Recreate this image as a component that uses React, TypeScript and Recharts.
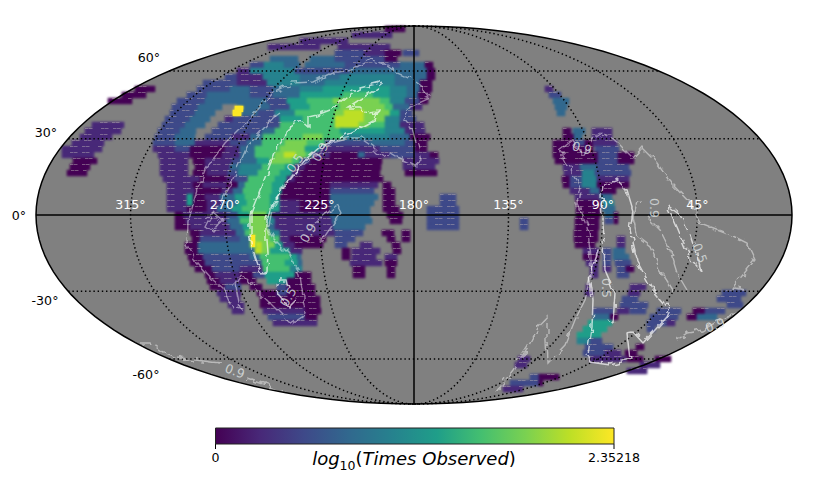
import React from 'react';
import { ScatterChart, Scatter, XAxis, YAxis } from 'recharts';

// Everything on the map is in the projected (Mollweide) plane, origin at lon 180 / lat 0
const PLANE_A = 378;
const PLANE_B = 189;
const MAX_LOG = 2.35218;

const viridis = ['#440154', '#482878', '#3e4989', '#31688e', '#26828e', '#1f9e89', '#44bf70', '#7ad151', '#bddf26', '#fde725'];

// y of the row, then x, level, x, level, ... x (one run after the other, level 0-9 of the colour scale)
const skyRows: number[][] = [
  [186, -29, 0, -12], [180, -62, 1, -22], [174, -114, 1, -69], [168, -146, 1, -94], [168, -76, 1, -26],
  [162, -79, 2, -50, 1, -29, 0, -16], [162, -11, 2, 2],
  [156, -144, 3, -118], [156, -104, 3, -79, 2, -29, 0, -17],
  [150, -164, 2, -150, 4, -130, 3, -116], [150, -109, 3, -69, 2, -14, 3, 11, 0, 19],
  [144, -177, 1, -164, 4, -119, 2, -64, 3, 13, 0, 19],
  [138, -189, 2, -177, 1, -151, 4, -114, 3, -74, 4, -19, 3, 13, 0, 20],
  [132, -211, 2, -177, 1, -147, 4, -114, 3, -89, 4, -19, 3, 6, 0, 18],
  [126, -217, 2, -184, 3, -164, 2, -141, 3, -114, 4, -91, 5, -24, 4, -7, 3, 6, 0, 18],
  [120, -227, 2, -207, 3, -164, 2, -141, 3, -114, 5, -71, 6, -41, 5, -24, 4, -7, 3, 4, 0, 16],
  [114, -237, 2, -209, 3, -147, 2, -127, 5, -107, 6, -81, 7, -34, 6, -24, 4, -9, 2, 6, 0, 11],
  [108, -242, 2, -216, 3, -192], [108, -177, 3, -144, 2, -124, 5, -104, 6, -74, 7, -29, 6, -21, 3, -4, 1, 6],
  [106, -179, 9, -171],
  [102, -244, 2, -219, 3, -202], [102, -181, 3, -156, 2, -139, 4, -119, 6, -79, 7, -70, 8, -50, 7, -24, 5, -14, 2, -2],
  [102, -181, 9, -173],
  [96, -249, 2, -224, 3, -207], [96, -189, 1, -181, 2, -134, 5, -111, 6, -79, 8, -50, 7, -29, 4, -14, 2, 1],
  [90, -252, 2, -229, 3, -212], [90, -196, 2, -134, 6, -79, 8, -55, 7, -45, 6, -29, 4, -14, 1, 8],
  [84, -256, 2, -234, 3, -219], [84, -202, 2, -152, 3, -139, 6, -74, 5, -29, 4, -9, 1, 8],
  [78, -259, 2, -239, 3, -222], [78, -209, 2, -182, 1, -164, 3, -151, 6, -111, 7, -91, 6, -71, 4, -24, 3, -4, 0, 13],
  [72, -261, 2, -239, 3, -219, 1, -184, 2, -167, 3, -152, 6, -129, 7, -107, 6, -89, 2, -44, 3, -9, 2, 1, 0, 11],
  [66, -261, 1, -239, 2, -224, 0, -189, 1, -174, 3, -159, 6, -134, 7, -109, 5, -94, 1, -34, 2, 1, 0, 11],
  [60, -256, 1, -224, 0, -192, 1, -174, 3, -159, 6, -139, 7, -130, 8, -118, 7, -108, 6, -102, 1, -84, 0, -56, 3, -49, 1, -24, 2, 1, 1, 16, 0, 23],
  [54, -254, 1, -227], [54, -221, 0, -209, 1, -182, 2, -174, 3, -157, 5, -144, 7, -122, 6, -114, 2, -104, 0, -34], [54, -11, 1, 23],
  [48, -254, 1, -227], [48, -219, 0, -209, 1, -184, 3, -174, 4, -152, 6, -129, 5, -119, 1, -109, 0, -34], [48, -11, 1, 21],
  [42, -254, 1, -229], [42, -221, 0, -207, 1, -186, 2, -176, 4, -156, 6, -134, 5, -122, 1, -114, 0, -34], [42, -9, 0, 21],
  [36, -251, 1, -214, 0, -187, 1, -179, 2, -166, 6, -139, 5, -127, 1, -119, 0, -34],
  [30, -247, 1, -221, 0, -211, 1, -187, 0, -176, 3, -169, 6, -142, 5, -129, 0, -84, 1, -39], [30, -31, 0, -24],
  [24, -247, 1, -219, 0, -192, 1, -181, 3, -171, 6, -142, 5, -132, 0, -84, 2, -42], [24, -31, 0, -22],
  [18, -247, 1, -227, 5, -221, 0, -209, 1, -194, 3, -179, 5, -169, 6, -144, 5, -134, 0, -84, 3, -39], [18, -31, 0, -21], [18, 26, 2, 41],
  [12, -247, 1, -227, 5, -221, 0, -207, 1, -192, 3, -177, 5, -167, 6, -144, 5, -134, 1, -114, 0, -84, 3, -40], [12, -31, 0, -21], [12, 26, 2, 41],
  [6, -247, 1, -227, 0, -207, 1, -197, 3, -182, 5, -172, 6, -144, 5, -134, 1, -114, 0, -84, 3, -44], [6, -31, 0, -17], [6, 13, 2, 43],
  [0, -239, 0, -231, 1, -187, 2, -176, 5, -164, 7, -147, 5, -142, 1, -84, 3, -44], [0, -27, 0, -11], [0, 13, 2, 43],
  [-6, -239, 0, -228, 1, -187, 3, -174, 6, -164, 7, -147, 4, -139, 1, -82, 3, -44], [-6, -24, 0, -14], [-6, 13, 2, 43],
  [-12, -239, 0, -224, 1, -184, 3, -171, 5, -164, 7, -146, 3, -139, 1, -81, 3, -49], [-12, 13, 2, 43],
  [-18, -224, 0, -214, 1, -178, 3, -169, 6, -164, 7, -144, 4, -134, 1, -79, 2, -52], [-18, -32, 0, -22], [-18, -12, 0, -7],
  [-23, -163, 9, -159],
  [-24, -222, 0, -214, 2, -174, 3, -164, 7, -144, 6, -134, 1, -124, 0, -91], [-24, -79, 2, -59], [-24, -27, 0, -21], [-24, -12, 0, -7],
  [-29, -163, 9, -159],
  [-30, -229, 0, -216, 3, -164, 7, -158, 8, -152, 7, -139, 5, -131, 1, -119, 0, -94], [-30, -79, 2, -69], [-30, -54, 1, -44], [-30, -22, 0, -16],
  [-36, -229, 0, -216, 3, -159, 8, -152, 7, -144, 5, -124, 1, -114], [-36, -72, 0, -66], [-36, -62, 1, -34], [-36, -21, 0, -14],
  [-42, -226, 0, -211, 2, -164, 3, -154, 6, -124, 5, -117, 3, -114], [-42, -72, 0, -66], [-42, -62, 1, -39], [-42, -29, 1, -19],
  [-48, -224, 0, -209, 2, -152, 6, -129, 5, -116, 3, -114], [-48, -64, 1, -34], [-48, -29, 0, -17],
  [-54, -219, 0, -202, 2, -174, 1, -151, 6, -124, 4, -112], [-54, -61, 0, -51], [-54, -27, 0, -19],
  [-60, -209, 0, -199, 1, -174, 0, -161, 2, -149, 5, -119, 0, -106], [-60, -61, 0, -51], [-60, -27, 0, -19],
  [-66, -207, 0, -194, 1, -174, 0, -161], [-66, -147, 5, -127, 0, -106],
  [-72, -204, 0, -189, 2, -176], [-72, -164, 0, -154], [-72, -137, 2, -127, 0, -102],
  [-78, -197, 1, -176], [-78, -157, 0, -137, 2, -127, 0, -99],
  [-84, -194, 1, -174], [-84, -154, 0, -96],
  [-90, -186, 1, -172], [-90, -154, 0, -96],
  [-96, -182, 1, -171], [-96, -151, 1, -109, 0, -96],
  [-102, -146, 2, -109, 0, -97],
  [-108, -141, 1, -97],
  // the eastern half
  [126, 131, 1, 138], [120, 135, 2, 146], [114, 139, 3, 152], [108, 141, 3, 152], [102, 143, 3, 149],
  [84, 149, 0, 154], [84, 159, 3, 168], [84, 178, 1, 196],
  [78, 149, 0, 158], [78, 160, 3, 168], [78, 178, 1, 198],
  [72, 139, 0, 161, 2, 171, 0, 176], [72, 179, 1, 201],
  [66, 139, 0, 176], [66, 181, 2, 203],
  [60, 139, 0, 184, 2, 204, 0, 218], [54, 141, 0, 184, 2, 204, 0, 218],
  [48, 149, 1, 166, 3, 183, 2, 214], [42, 150, 1, 168, 4, 181, 2, 214],
  [36, 148, 0, 156, 2, 168, 4, 183, 1, 213], [30, 149, 0, 156, 2, 168, 4, 183, 0, 213],
  [24, 156, 1, 176, 3, 186, 0, 201], [18, 161, 1, 183], [18, 186, 3, 198],
  [12, 162, 0, 183], [12, 188, 4, 198], [6, 162, 0, 183], [6, 189, 3, 198],
  [0, 162, 0, 183], [0, 191, 3, 198], [0, 200, 0, 203],
  [-6, 161, 0, 183], [-6, 191, 2, 196], [-6, 200, 0, 203], [-6, 106, 2, 112],
  [-12, 161, 0, 183], [-12, 106, 2, 112], [-18, 160, 0, 183],
  [-24, 160, 0, 183], [-24, 203, 1, 209], [-30, 161, 0, 181], [-30, 203, 1, 208],
  [-36, 169, 1, 183], [-36, 189, 2, 196], [-36, 199, 3, 211],
  [-42, 169, 0, 183], [-42, 189, 2, 196], [-42, 199, 3, 214],
  [-48, 172, 1, 181], [-48, 189, 2, 196], [-48, 201, 2, 216],
  [-54, 176, 1, 181], [-54, 189, 1, 195], [-54, 203, 2, 212, 0, 219],
  [-60, 176, 1, 181], [-60, 203, 2, 214],
  [-72, 172, 1, 176], [-72, 216, 1, 229],
  [-78, 171, 1, 176], [-78, 214, 1, 226], [-78, 308, 2, 329],
  [-84, 208, 2, 223], [-84, 303, 2, 325],
  [-90, 206, 2, 231], [-90, 313, 2, 329],
  [-96, 179, 2, 196], [-96, 203, 1, 213], [-96, 216, 2, 231], [-96, 243, 2, 264], [-96, 279, 0, 291, 2, 309],
  [-102, 179, 3, 196, 0, 203], [-102, 236, 2, 263], [-102, 273, 0, 283, 3, 301],
  [-108, 174, 5, 196], [-108, 233, 2, 253, 1, 261],
  [-114, 169, 5, 191], [-114, 233, 2, 241],
  [-120, 163, 5, 186], [-126, 163, 4, 176, 2, 186],
  [-132, 171, 2, 199], [-132, 222, 0, 229],
  [-138, 169, 2, 191, 1, 206], [-138, 211, 0, 223],
  [-144, 176, 1, 186], [-144, 188, 1, 211], [-144, 213, 0, 226], [-144, 241, 0, 256], [-144, 104, 1, 113],
  [-150, 101, 1, 111], [-150, 226, 1, 246], [-156, 213, 1, 231],
  [-162, 116, 2, 125, 0, 143], [-168, 96, 2, 125, 0, 129], [-174, 89, 1, 109],
  // the small western patches
  [126, -279, 0, -259], [120, -292, 0, -269], [114, -306, 0, -284],
  [90, -322, 1, -292], [84, -329, 1, -296], [78, -334, 1, -304], [72, -342, 1, -311], [66, -352, 1, -314], [60, -352, 1, -322],
  [54, -341, 0, -317], [48, -344, 0, -324], [42, -347, 0, -329],
];

const contourMain05 = [[-31, 133], [-54, 127], [-69, 117], [-84, 105], [-97, 100], [-106, 98], [-106, 88], [-114, 95], [-127, 85], [-129, 77], [-137, 68], [-146, 45], [-154, 25], [-164, 0], [-164, -18], [-161, -35], [-156, -50], [-151, -59], [-147, -57], [-146, -38], [-147, -25], [-147, -5], [-142, 10], [-134, 20], [-124, 35], [-109, 55], [-94, 68], [-74, 77], [-54, 87], [-39, 95], [-36, 103], [-47, 102], [-54, 108], [-66, 108], [-47, 120], [-31, 131], [-31, 133]];
const contourBlob05 = [[-126, -73], [-128, -65], [-134, -65], [-137, -72], [-136, -81], [-131, -87], [-124, -91], [-118, -85]];
const contourLoop05 = [[193, -103], [199, -108], [201, -78], [191, -55], [189, -5], [188, 22], [189, 30], [203, 35], [213, 25], [219, 5], [216, -15], [224, -48], [239, -75], [256, -95], [253, -102], [229, -128], [219, -117], [213, -118], [216, -145], [196, -150], [176, -147], [174, -140], [178, -112], [179, -85], [176, -58], [184, -35], [179, -32]];
const contourSliver05 = [[253, 10], [263, -12], [276, -43], [288, -57], [276, -20], [266, 0], [253, 10]];

const contourMain09 = [[-74, 143], [-61, 145], [-44, 155], [-31, 152], [-17, 142], [-1, 135], [9, 128], [16, 117], [-4, 108], [-11, 98], [-2, 87], [4, 65], [7, 55], [1, 50], [-9, 55], [-17, 58], [-24, 62], [-31, 58], [-41, 68], [-54, 77], [-64, 77], [-82, 72], [-101, 58], [-119, 43], [-131, 28], [-142, 5], [-146, -15], [-141, -23], [-126, -38], [-114, -60], [-109, -98], [-124, -108], [-134, -98], [-144, -88], [-161, -72], [-172, -57], [-179, -68], [-174, -95], [-182, -93], [-191, -73], [-201, -65], [-216, -48], [-227, -28], [-226, -8], [-217, 25], [-209, 45], [-189, 72], [-164, 97], [-141, 122], [-121, 132], [-101, 133], [-81, 143], [-74, 143]];
const contourBranch09 = [[-134, 102], [-141, 97], [-167, 68], [-186, 25], [-204, -2], [-209, -12], [-202, -17], [-192, -5], [-201, 3], [-209, -2]];
const contourCore09 = [[-99, -8], [-77, 10], [-73, 2], [-94, -28]];
const contourEast09 = [[188, 82], [203, 73], [219, 57], [228, 67], [243, 52], [256, 33], [276, 12], [286, -8], [313, -18], [333, -28], [341, -45], [319, -72], [331, -75]];
const contourEastLeft09 = [[188, 82], [178, 75], [169, 60], [159, 75], [146, 65], [153, 52], [166, 30], [163, 12], [173, -12], [176, -32], [178, -58], [171, -85], [161, -105], [151, -130], [134, -148], [133, -125], [133, -103], [124, -113], [114, -132], [99, -155], [84, -175]];
const contourEastInner09 = [[228, 13], [223, 12], [219, -2], [223, -22], [236, -32], [246, -55], [259, -75]];
const contourEastOuter09 = [[234, -3], [246, -15], [256, -35], [263, -58], [273, -75]];
const contourLower09 = [[263, -125], [273, -118], [289, -115], [309, -103], [323, -98]];
const contourSouth09 = [[-274, -128], [-264, -128], [-251, -137], [-237, -142], [-227, -144], [-194, -148]];
const contourSouth09b = [[-167, -163], [-147, -170], [-131, -177]];

const contours05 = [contourMain05, contourBlob05, contourLoop05, contourSliver05];
const contours09 = [contourMain09, contourBranch09, contourCore09, contourEast09, contourEastLeft09, contourEastInner09, contourEastOuter09, contourLower09, contourSouth09, contourSouth09b];

const contourLabels = [
  { x: -119, y: 52, text: '0.5', angle: -55 }, { x: -94, y: 63, text: '0.9', angle: -60 },
  { x: -106, y: -18, text: '0.9', angle: -60 }, { x: -126, y: -82, text: '0.5', angle: -60 },
  { x: -179, y: -156, text: '0.9', angle: 20 }, { x: 168, y: 67, text: '0.9', angle: 15 },
  { x: 192, y: -73, text: '0.5', angle: 90 }, { x: 286, y: -38, text: '0.5', angle: 70 },
  { x: 240, y: 7, text: '0.9', angle: 90 }, { x: 301, y: -110, text: '0.9', angle: -20 },
];

const latLabels = [
  { x: -265, y: 158, text: '60°' }, { x: -368, y: 83, text: '30°' }, { x: -395, y: 0, text: '0°' },
  { x: -369, y: -85, text: '-30°' }, { x: -268, y: -159, text: '-60°' },
];
const lonTicks = [315, 270, 225, 180, 135, 90, 45];
const parallels = [0.762, 0.404, -0.404, -0.762]; // sin(theta) of +-60 and +-30
const meridians = [135, 90, 45, -45, -90, -135];
const colourTicks = [0, MAX_LOG];

const CELL = 4;
const skyCells = skyRows.flatMap((row) => {
  const out: { x: number; y: number; v: number }[] = [];
  for (let i = 1; i + 2 < row.length; i += 2) {
    for (let x = row[i]; x < row[i + 2]; x += CELL) {
      out.push({ x: x + CELL / 2, y: row[0], v: row[i + 1] });
    }
  }
  return out;
});
const peakCells = skyCells.filter((c) => c.v === 9);
// the faint scan gaps that run through the sparsely observed sky
const gapCells = skyCells.filter((c) => {
  const col = Math.round(c.x / CELL);
  const rowIdx = Math.round(c.y / 6);
  return c.v <= 2 && (col * col * 3 + col + rowIdx * 7) % 7 < 3;
});

const points = (list: number[][]) => list.map(([x, y]) => ({ x, y }));

// projected outlines
const steps = Array.from({ length: 145 }, (_, i) => (i / 144) * 2 * Math.PI);
const outline = steps.map((t) => ({ x: PLANE_A * Math.cos(t), y: PLANE_B * Math.sin(t) }));
const meridianLine = (lon: number) =>
  steps.slice(0, 73).map((t) => ({ x: (lon / 180) * PLANE_A * Math.sin(t), y: PLANE_B * Math.cos(t) }));
const parallelLine = (s: number) => {
  const half = PLANE_A * Math.sqrt(1 - s * s);
  return [{ x: -half, y: PLANE_B * s }, { x: half, y: PLANE_B * s }];
};
const colourBar = [{ x: 0, y: 0 }, { x: MAX_LOG, y: 0 }, { x: MAX_LOG, y: 1 }, { x: 0, y: 1 }, { x: 0, y: 0 }];

const NoDot = () => null;

const CellShape = (props: any) => {
  const { cx, cy, payload } = props;
  return <rect x={cx - 2.3} y={cy - 3.2} width={4.6} height={6.4} fill={viridis[payload.v]} />;
};

const GapShape = (props: any) => (
  <rect x={props.cx - 2} y={props.cy - 3} width={3.5} height={1} fill="#b4aab0" fillOpacity={0.5} />
);

const MapText = (color: string, size: number) => (props: any) => (
  <text x={props.cx} y={props.cy} fill={color} fontSize={size} fontFamily="DejaVu Sans" textAnchor="middle" dominantBaseline="central">
    {props.payload.text}
  </text>
);

const ContourText = (props: any) => (
  <text
    x={props.cx}
    y={props.cy}
    fill="#dfe3e3"
    fillOpacity={0.8}
    fontSize={12.5}
    fontFamily="DejaVu Sans"
    textAnchor="middle"
    dominantBaseline="central"
    transform={`rotate(${props.payload.angle} ${props.cx} ${props.cy})`}
  >
    {props.payload.text}
  </text>
);

const lonLabels = lonTicks.map((lon) => ({ x: ((180 - lon) / 180) * PLANE_A, y: 11, text: `${lon}°` }));
const dotted = { stroke: '#000', strokeWidth: 1.5, strokeDasharray: '1.4 2.8' };

export default function App() {
  return (
    <div style={{ position: 'absolute', left: 0, top: 0, width: 830, height: 498, background: '#fff', fontFamily: 'DejaVu Sans' }}>
      <style>{`.sky-cells{filter:blur(0.9px)} .sky-lines{filter:url(#jag)}`}</style>
      <svg width={0} height={0} style={{ position: 'absolute' }}>
        <filter id="jag" x="-30%" y="-30%" width="160%" height="160%" colorInterpolationFilters="sRGB">
          <feTurbulence type="fractalNoise" baseFrequency="0.14" numOctaves={1} seed={4} result="n" />
          <feDisplacementMap in="SourceGraphic" in2="n" scale={5} xChannelSelector="R" yChannelSelector="G" />
          <feGaussianBlur stdDeviation={0.35} />
        </filter>
      </svg>
      <div style={{ position: 'absolute', left: 0, top: 0 }}>
        <ScatterChart width={830} height={498} margin={{ top: 0, right: 0, bottom: 0, left: 0 }}>
          <XAxis type="number" dataKey="x" domain={[-414, 416]} hide allowDataOverflow />
          <YAxis type="number" dataKey="y" domain={[-283, 215]} hide allowDataOverflow />
          <Scatter data={outline} isAnimationActive={false} shape={NoDot} line={{ fill: '#808080', stroke: 'none' }} />
          <Scatter className="sky-cells" data={skyCells} isAnimationActive={false} shape={CellShape} />
          <Scatter data={peakCells} isAnimationActive={false} shape={CellShape} />
          <Scatter data={gapCells} isAnimationActive={false} shape={GapShape} />
          {meridians.map((lon) => (
            <Scatter key={lon} data={meridianLine(lon)} isAnimationActive={false} shape={NoDot} line={dotted} />
          ))}
          {parallels.map((s) => (
            <Scatter key={s} data={parallelLine(s)} isAnimationActive={false} shape={NoDot} line={dotted} />
          ))}
          <Scatter data={parallelLine(0)} isAnimationActive={false} shape={NoDot} line={{ stroke: '#000', strokeWidth: 1.5 }} />
          <Scatter data={meridianLine(0)} isAnimationActive={false} shape={NoDot} line={{ stroke: '#000', strokeWidth: 1.5 }} />
          {contours09.map((c, i) => (
            <Scatter key={i} className="sky-lines" data={points(c)} isAnimationActive={false} shape={NoDot}
              line={{ stroke: '#fff', strokeOpacity: 0.45, strokeWidth: 1.4 }} />
          ))}
          {contours05.map((c, i) => (
            <Scatter key={i} className="sky-lines" data={points(c)} isAnimationActive={false} shape={NoDot}
              line={{ stroke: '#fff', strokeOpacity: 0.68, strokeWidth: 1.5 }} />
          ))}
          <Scatter data={outline} isAnimationActive={false} shape={NoDot} line={{ stroke: '#000', strokeWidth: 1.5 }} />
          <Scatter data={contourLabels} isAnimationActive={false} shape={ContourText} />
          <Scatter data={lonLabels} isAnimationActive={false} shape={MapText('#fff', 12.6)} />
          <Scatter data={latLabels} isAnimationActive={false} shape={MapText('#000', 12.6)} />
        </ScatterChart>
      </div>
      <div style={{ position: 'absolute', left: 0, top: 0 }}>
        <ScatterChart width={830} height={498} margin={{ top: 428, right: 216, bottom: 24, left: 215.5 }}>
          <defs>
            <linearGradient id="viridisBar" x1="0" y1="0" x2="1" y2="0">
              {viridis.map((c, i) => (
                <stop key={c} offset={i / (viridis.length - 1)} stopColor={c} />
              ))}
            </linearGradient>
          </defs>
          <XAxis type="number" dataKey="x" domain={[0, MAX_LOG]} ticks={colourTicks} interval={0} height={30} tickLine={{ stroke: '#000' }} tickSize={5} tickMargin={4}
            axisLine={false} tick={{ fill: '#000', fontSize: 12.6, fontFamily: 'DejaVu Sans' }} />
          <YAxis type="number" dataKey="y" domain={[0, 1]} hide />
          <Scatter data={colourBar} isAnimationActive={false} shape={NoDot} line={{ fill: 'url(#viridisBar)', stroke: '#222', strokeWidth: 1 }} />
        </ScatterChart>
      </div>
      <div style={{ position: 'absolute', left: 214, width: 400, top: 448, textAlign: 'center', fontSize: 18, lineHeight: '22px', color: '#000', whiteSpace: 'nowrap' }}>
        <i>log</i>
        <sub style={{ fontSize: 12.5, lineHeight: 0 }}>10</sub>
        <span>(</span>
        <i>Times Observed</i>
        <span>)</span>
      </div>
    </div>
  );
}
